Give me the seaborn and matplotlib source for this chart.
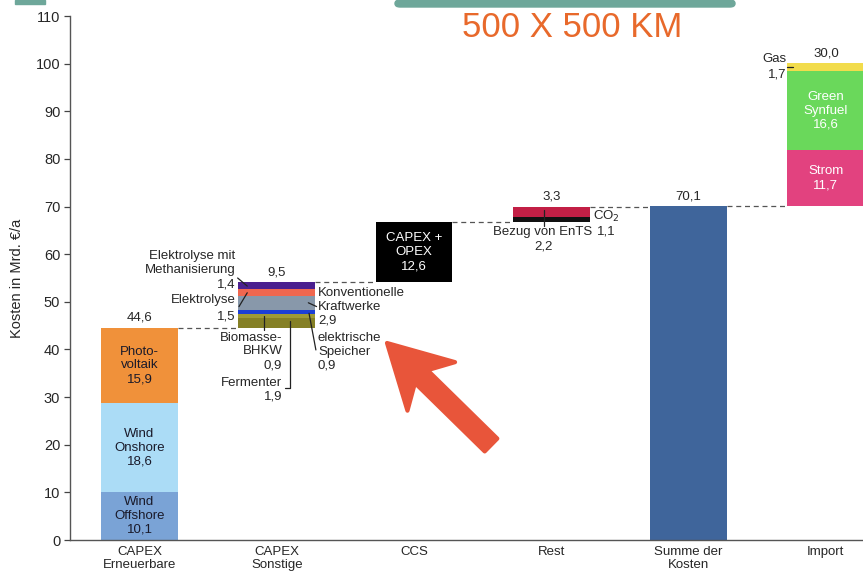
import numpy as np
import pandas as pd
import matplotlib
matplotlib.use("Agg")
import matplotlib.pyplot as plt
from matplotlib.patches import Polygon, FancyBboxPatch, Rectangle
import seaborn as sns

# ---------------- data ----------------
categories = ["CAPEX\nErneuerbare", "CAPEX\nSonstige", "CCS", "Rest", "Summe der\nKosten", "Import"]

erneuerbare_labels = ["Wind\nOffshore", "Wind\nOnshore", "Photo-\nvoltaik"]
erneuerbare_values = [10.1, 18.6, 15.9]

sonstige_labels = ["Fermenter", "Biomasse-\nBHKW", "elektrische\nSpeicher",
                   "Konventionelle\nKraftwerke", "Elektrolyse", "Elektrolyse mit\nMethanisierung"]
sonstige_values = [1.9, 0.9, 0.9, 2.9, 1.5, 1.4]

ccs_label = "CAPEX +\nOPEX"
ccs_value = 12.6

rest_labels = ["CO$_2$", "Bezug von EnTS"]
rest_values = [1.1, 2.2]

summe_value = 70.1

import_labels = ["Strom", "Green\nSynfuel", "Gas"]
import_values = [11.7, 16.6, 1.7]

y_ticks = list(range(0, 111, 10))
y_label = "Kosten in Mrd. €/a"
title_text = "500 X 500 KM"

# ---------------- style ----------------
erneuerbare_colors = ["#7aa3d6", "#abdcf6", "#f0913a"]
sonstige_colors = ["#858026", "#9f9a36", "#1d3fd6", "#8898aa", "#f0674f", "#4a1f8f"]
ccs_color = "#000000"
rest_colors = ["#111111", "#c21f45"]
summe_color = "#3f659b"
import_colors = ["#e2427f", "#6ad85b", "#f2dc4c"]

sns.set_theme(style="white")
plt.rcParams["font.family"] = ["Liberation Sans", "DejaVu Sans"]

W, H = 863, 574
fig = plt.figure(figsize=(W / 100, H / 100), dpi=100)
ax = fig.add_axes([70 / W, 34 / H, 1 - 70 / W, (540 - 16) / H])

BAR_W = 0.56
FS = 9.5


def fmt(v):
    return f"{v:.1f}".replace(".", ",")


def seg(cat, bottom, height, color):
    sns.barplot(x=[cat], y=[height], order=categories, color=color, width=BAR_W,
                bottom=bottom, saturation=1, linewidth=0, errorbar=None, ax=ax)


# Erneuerbare
base = 0.0
for lab, v, c in zip(erneuerbare_labels, erneuerbare_values, erneuerbare_colors):
    seg(categories[0], base, v, c)
    ax.text(0, base + v / 2, f"{lab}\n{fmt(v)}", ha="center", va="center",
            fontsize=FS, color="#1a1a2a", linespacing=1.2)
    base += v
tot_ern = sum(erneuerbare_values)
ax.text(0, tot_ern + 0.8, fmt(tot_ern), ha="center", va="bottom", fontsize=FS)

# Sonstige
base = tot_ern
for v, c in zip(sonstige_values, sonstige_colors):
    seg(categories[1], base, v, c)
    base += v
tot_son = sum(sonstige_values)
top_son = tot_ern + tot_son
ax.text(1, top_son + 0.8, fmt(tot_son), ha="center", va="bottom", fontsize=FS)

lk = dict(color="#222222", lw=0.9)
# Elektrolyse mit Methanisierung
ax.text(0.70, 58.2, sonstige_labels[5], ha="right", va="center", fontsize=FS, linespacing=1.2)
ax.text(0.70, 53.6, fmt(sonstige_values[5]), ha="right", va="center", fontsize=FS)
ax.plot([0.715, 0.785], [55.0, 53.3], **lk)
# Elektrolyse
ax.text(0.70, 50.4, sonstige_labels[4], ha="right", va="center", fontsize=FS)
ax.text(0.70, 46.9, fmt(sonstige_values[4]), ha="right", va="center", fontsize=FS)
ax.plot([0.725, 0.785], [49.0, 51.9], **lk)
# Konventionelle Kraftwerke
ax.text(1.30, 50.3, sonstige_labels[3], ha="left", va="center", fontsize=FS, linespacing=1.2)
ax.text(1.30, 46.1, fmt(sonstige_values[3]), ha="left", va="center", fontsize=FS)
ax.plot([1.23, 1.29], [49.8, 49.0], **lk)
# elektrische Speicher
ax.text(1.30, 41.0, sonstige_labels[2], ha="left", va="center", fontsize=FS, linespacing=1.2)
ax.text(1.30, 36.7, fmt(sonstige_values[2]), ha="left", va="center", fontsize=FS)
ax.plot([1.235, 1.285], [47.6, 39.9], **lk)
# Biomasse-BHKW
ax.text(1.04, 39.6, f"{sonstige_labels[1]}\n{fmt(sonstige_values[1])}", ha="right", va="center",
        fontsize=FS, linespacing=1.2)
ax.plot([0.905, 0.905], [47.0, 44.0], **lk)
# Fermenter
ax.text(1.04, 31.6, f"{sonstige_labels[0]}\n{fmt(sonstige_values[0])}", ha="right", va="center",
        fontsize=FS, linespacing=1.2)
ax.plot([1.095, 1.095, 1.06], [46.0, 32.0, 32.0], **lk)

# CCS
seg(categories[2], top_son, ccs_value, ccs_color)
top_ccs = top_son + ccs_value
ax.text(2, top_son + ccs_value / 2, f"{ccs_label}\n{fmt(ccs_value)}", ha="center", va="center",
        fontsize=FS, color="white", linespacing=1.2)

# Rest
base = top_ccs
for v, c in zip(rest_values, rest_colors):
    seg(categories[3], base, v, c)
    base += v
tot_rest = sum(rest_values)
top_rest = top_ccs + tot_rest
ax.text(3, top_rest + 0.8, fmt(tot_rest), ha="center", va="bottom", fontsize=FS)
ax.text(3.30, 68.0, rest_labels[0], ha="left", va="center", fontsize=FS)
ax.text(3.33, 64.7, fmt(rest_values[0]), ha="left", va="center", fontsize=FS)
ax.text(2.94, 64.7, rest_labels[1], ha="center", va="center", fontsize=FS)
ax.text(2.94, 61.7, fmt(rest_values[1]), ha="center", va="center", fontsize=FS)
ax.plot([2.95, 2.95], [69.2, 66.0], **lk)

# Summe
seg(categories[4], 0, summe_value, summe_color)
ax.text(4, summe_value + 0.8, fmt(summe_value), ha="center", va="bottom", fontsize=FS)

# Import
base = summe_value
for lab, v, c in zip(import_labels, import_values, import_colors):
    seg(categories[5], base, v, c)
    if v > 5:
        ax.text(5, base + v / 2, f"{lab}\n{fmt(v)}", ha="center", va="center",
                fontsize=FS, color="white", linespacing=1.2)
    base += v
tot_imp = sum(import_values)
ax.text(5, summe_value + tot_imp + 0.8, fmt(tot_imp), ha="center", va="bottom", fontsize=FS)
ax.text(4.71, 100.9, import_labels[2], ha="right", va="center", fontsize=FS)
ax.text(4.71, 97.8, fmt(import_values[2]), ha="right", va="center", fontsize=FS)
ax.plot([4.72, 4.76], [99.2, 99.2], **lk)

# dashed connectors
dk = dict(color="#555555", lw=0.9, ls=(0, (4, 3)))
conn = [(0, 1, tot_ern), (1, 2, top_son), (2, 3, top_ccs), (3, 4, top_rest), (4, 5, summe_value)]
for a, b, yv in conn:
    ax.plot([a + BAR_W / 2, b - BAR_W / 2], [yv, yv], **dk)

# axes styling
ax.set_xlim(-0.506, 5.27)
ax.set_ylim(0, 110)
ax.set_yticks(y_ticks)
ax.set_yticklabels([str(t) for t in y_ticks], fontsize=10.5)
ax.set_xticks(range(len(categories)))
ax.set_xticklabels(categories, fontsize=FS, linespacing=1.2)
ax.tick_params(axis="x", length=0, pad=4)
ax.tick_params(axis="y", length=4, width=0.9, color="#444444", left=True, pad=3)
ax.set_xlabel("")
ax.set_ylabel(y_label, fontsize=10.5)
ax.yaxis.set_label_coords(-46 / (W - 70), 0.5)
for s in ["top", "right"]:
    ax.spines[s].set_visible(False)
for s in ["left", "bottom"]:
    ax.spines[s].set_color("#555555")
    ax.spines[s].set_linewidth(1.0)
ax.set_facecolor("white")

# decorations: teal band, title, red arrow
def fxy(px, py):
    return (px / W, 1 - py / H)

fig.patches.append(FancyBboxPatch(fxy(395, 7), (735 - 395) / W, 7 / H,
                                  boxstyle="round,pad=0,rounding_size=0.006",
                                  transform=fig.transFigure, color="#6ea79a", zorder=0))
fig.patches.append(Rectangle(fxy(15, 4), 30 / W, 4 / H, transform=fig.transFigure,
                             color="#6ea79a", zorder=0))
fig.text(572 / W, 1 - 37 / H, title_text, ha="center", va="baseline", fontsize=25,
         color="#e8692b", family=["Liberation Sans", "DejaVu Sans"])

tip = np.array([387.0, 343.0])
tail = np.array([491.0, 445.0])
d = tip - tail
L = np.linalg.norm(d)
u = d / L
n = np.array([-u[1], u[0]])
head_len, head_hw, shaft_hw, notch = 62.0, 34.0, 9.0, 14.0
neck = tip - u * (head_len - notch)
back = tip - u * head_len
pts = [tip,
       back + n * head_hw,
       neck + n * shaft_hw,
       tail + n * shaft_hw,
       tail - n * shaft_hw,
       neck - n * shaft_hw,
       back - n * head_hw]
fig.patches.append(Polygon([fxy(*p) for p in pts], closed=True, transform=fig.transFigure,
                           color="#e8553a", zorder=5, joinstyle="round", lw=3))

fig.savefig("out.png", dpi=100, facecolor="white")
